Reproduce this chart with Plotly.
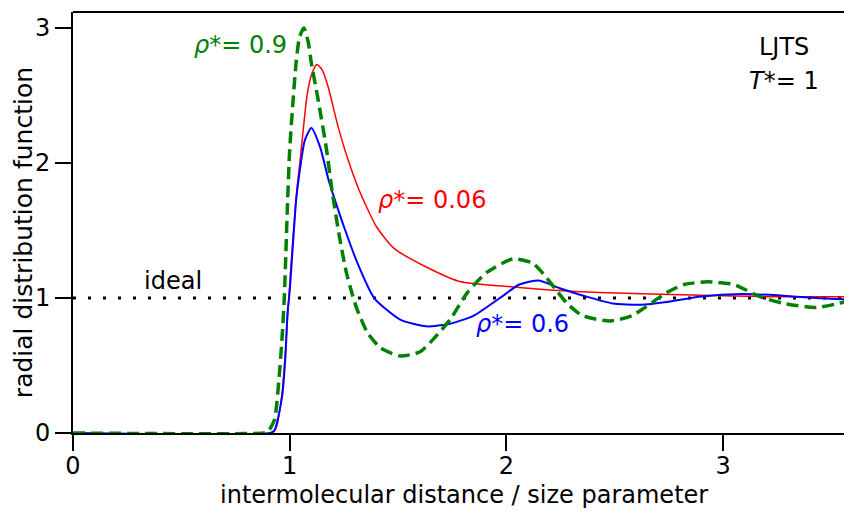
import plotly.graph_objects as go

# --- data ---
x_09 = [0, 0.88, 0.90, 0.93, 0.95, 0.965, 0.975, 0.99, 1.0, 1.015, 1.03, 1.045, 1.065, 1.085,
        1.10, 1.13, 1.17, 1.195, 1.23, 1.26, 1.29, 1.31, 1.36, 1.42, 1.51, 1.60, 1.66, 1.74,
        1.82, 1.91, 2.03, 2.12, 2.17, 2.23, 2.28, 2.35, 2.48, 2.58, 2.74, 2.82, 2.93, 3.05,
        3.17, 3.28, 3.43, 3.56]
g_09 = [0, 0, 0.01, 0.10, 0.39, 0.71, 1.0, 1.7, 2.1, 2.45, 2.75, 2.93, 3.0, 2.9,
        2.74, 2.48, 2.1, 1.8, 1.45, 1.2, 1.02, 0.92, 0.74, 0.63, 0.57, 0.60, 0.69, 0.84,
        1.04, 1.19, 1.29, 1.26, 1.18, 1.06, 0.96, 0.87, 0.83, 0.87, 1.04, 1.10, 1.12, 1.10,
        1.01, 0.96, 0.93, 0.97]

x_06 = [0, 0.91, 0.93, 0.965, 0.98, 0.99, 1.0, 1.015, 1.03, 1.047, 1.07, 1.10, 1.14, 1.18,
        1.21, 1.25, 1.31, 1.39, 1.51, 1.63, 1.74, 1.85, 1.97, 2.06, 2.15, 2.25, 2.37, 2.49,
        2.62, 2.74, 2.89, 3.09, 3.25, 3.43, 3.56]
g_06 = [0, 0, 0.02, 0.27, 0.56, 0.89, 1.05, 1.4, 1.73, 1.95, 2.17, 2.26, 2.12, 1.87,
        1.72, 1.53, 1.27, 1.0, 0.84, 0.79, 0.81, 0.87, 1.0, 1.10, 1.13, 1.07, 1.01, 0.96,
        0.95, 0.97, 1.01, 1.03, 1.02, 1.0, 0.99]

x_006 = [0, 0.92, 0.94, 0.965, 0.98, 1.0, 1.03, 1.05, 1.08, 1.10, 1.125, 1.15, 1.18, 1.22,
         1.26, 1.32, 1.40, 1.48, 1.63, 1.79, 1.97, 2.2, 2.43, 2.9, 3.2, 3.56]
g_006 = [0, 0, 0.05, 0.3, 0.6, 1.1, 1.75, 2.05, 2.5, 2.65, 2.73, 2.69, 2.55, 2.29,
         2.07, 1.80, 1.53, 1.37, 1.23, 1.12, 1.09, 1.06, 1.04, 1.02, 1.01, 1.01]

ideal_x = [0, 3.56]
ideal_y = [1, 1]

x_ticks = [0, 1, 2, 3]
y_ticks = [0, 1, 2, 3]

FONT = "DejaVu Sans, Liberation Sans, Arial, sans-serif"
FS = 24

fig = go.Figure()
fig.add_trace(go.Scatter(x=ideal_x, y=ideal_y, mode="lines",
                         line=dict(color="black", width=3, dash="3px,12px")))
fig.add_trace(go.Scatter(x=x_006, y=g_006, mode="lines",
                         line=dict(color="#ff0000", width=1.5, shape="spline", smoothing=0.6)))
fig.add_trace(go.Scatter(x=x_06, y=g_06, mode="lines",
                         line=dict(color="#0000ff", width=2, shape="spline", smoothing=0.6)))
fig.add_trace(go.Scatter(x=x_09, y=g_09, mode="lines",
                         line=dict(color="#008000", width=3.5, dash="12px,6px",
                                   shape="spline", smoothing=0.6)))


def lab(x, y, text, color, xref="x", yref="y", size=FS, **kw):
    d = dict(showarrow=False, xref=xref, yref=yref, x=x, y=y, text=text,
             xanchor="center", yanchor="middle",
             font=dict(family=FONT, size=size, color=color))
    d.update(kw)
    return d


annotations = [
    lab(0.773, 2.874, "<i>ρ</i>*= 0.9", "#008000"),
    lab(1.657, 1.726, "<i>ρ</i>*= 0.06", "#ff0000"),
    lab(2.074, 0.807, "<i>ρ</i>*= 0.6", "#0000ff"),
    lab(0.461, 1.126, "ideal", "black"),
    lab(3.279, 2.859, "LJTS", "black"),
    lab(3.281, 2.607, "<i>T</i>*= 1", "black"),
    lab(-0.0649, 0.477, "radial distribution function", "black",
        xref="paper", yref="paper", size=25, textangle=-90),
    lab(0.507, -0.148, "intermolecular distance / size parameter", "black",
        xref="paper", yref="paper", size=24),
]

axis_common = dict(showline=True, linecolor="black", linewidth=2, ticks="outside",
                   ticklen=16, tickwidth=2, tickcolor="black", showgrid=False, zeroline=False,
                   tickfont=dict(family=FONT, size=FS, color="black"))

fig.update_layout(
    width=844, height=511,
    margin=dict(l=73, r=0, t=12, b=78),
    paper_bgcolor="white", plot_bgcolor="white",
    showlegend=False,
    xaxis=dict(axis_common, range=[0, 3.558], tickvals=x_ticks, ticklabelstandoff=-6),
    yaxis=dict(axis_common, range=[0, 3.119], tickvals=y_ticks),
    annotations=annotations,
    shapes=[dict(type="line", xref="paper", yref="paper", x0=0, x1=1, y0=1, y1=1,
                 line=dict(color="black", width=2))],
)

# remove the default page margin so the 844x511 figure fills the window exactly
fig.write_html("out.html",
               config={"displayModeBar": False},
               post_script="document.body.style.margin='0';"
                           "document.body.style.overflow='hidden';")
